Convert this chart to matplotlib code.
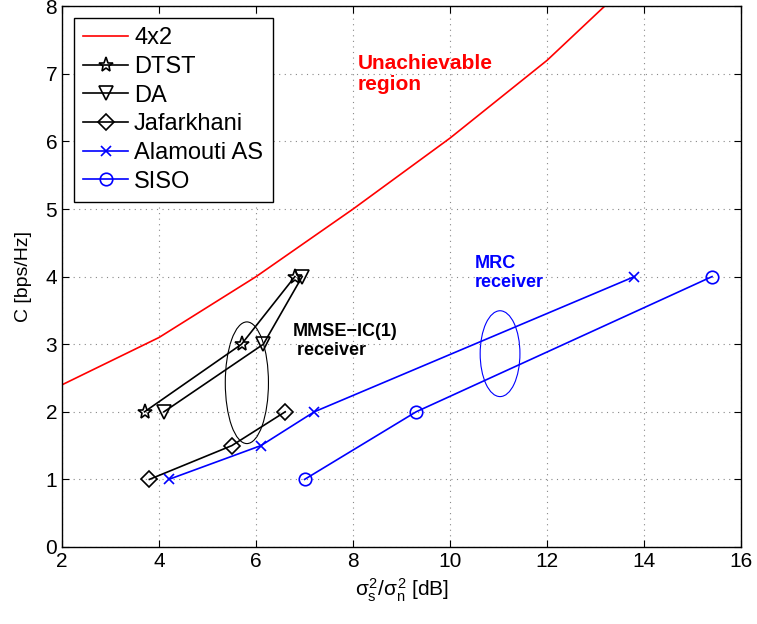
import matplotlib
matplotlib.use('Agg')
import matplotlib.pyplot as plt
from matplotlib.patches import Ellipse

plt.rcParams['font.family'] = ['Liberation Sans', 'DejaVu Sans']
plt.rcParams['mathtext.fontset'] = 'custom'
plt.rcParams['mathtext.rm'] = 'Liberation Sans'
plt.rcParams['mathtext.it'] = 'Liberation Sans'

# data
bound_x = [2, 4, 6, 8, 10, 12, 14]
bound_y = [2.4, 3.1, 4.0, 5.0, 6.05, 7.2, 8.55]

dtst_x = [3.7, 5.7, 6.8]
dtst_y = [2, 3, 4]
da_x = [4.1, 6.15, 6.95]
da_y = [2, 3, 4]
jaf_x = [3.8, 5.5, 6.6]
jaf_y = [1, 1.5, 2]
alam_x = [4.2, 6.1, 7.2, 13.8]
alam_y = [1, 1.5, 2, 4]
siso_x = [7.0, 9.3, 15.4]
siso_y = [1, 2, 4]

fig = plt.figure(figsize=(7.57, 6.24), dpi=100)
ax = fig.add_axes([0.082, 0.1234, 0.897, 0.8666])

ax.plot(bound_x, bound_y, color='red', lw=1.2, label='4x2')
ax.plot(dtst_x, dtst_y, color='black', lw=1.2, marker='*', ms=11, mfc='none', mew=1.2, label='DTST')
ax.plot(da_x, da_y, color='black', lw=1.2, marker='v', ms=10, mfc='none', mew=1.2, label='DA')
ax.plot(jaf_x, jaf_y, color='black', lw=1.2, marker='D', ms=8, mfc='none', mew=1.2, label='Jafarkhani')
ax.plot(alam_x, alam_y, color='blue', lw=1.2, marker='x', ms=7, mew=1.2, label='Alamouti AS')
ax.plot(siso_x, siso_y, color='blue', lw=1.2, marker='o', ms=9, mfc='none', mew=1.2, label='SISO')

ax.add_patch(Ellipse((5.81, 2.43), 0.89, 1.8, fill=False, ec='black', lw=0.8))
ax.add_patch(Ellipse((11.03, 2.86), 0.82, 1.27, fill=False, ec='blue', lw=0.8))

ax.text(8.1, 7.3, 'Unachievable\nregion', color='red', fontsize=15, fontweight='bold', va='top', linespacing=1.15)
ax.text(10.5, 4.32, 'MRC\nreceiver', color='blue', fontsize=13, fontweight='bold', va='top', linespacing=1.15)
ax.text(6.75, 3.32, 'MMSE\u2212IC(1)\n receiver', color='black', fontsize=13, fontweight='bold', va='top', linespacing=1.15)

ax.set_xlim(2, 16)
ax.set_ylim(0, 8)
ax.set_xticks(range(2, 17, 2))
ax.set_yticks(range(0, 9))
ax.grid(True, color='#888888', ls=(0, (1, 4)), lw=0.8)
ax.tick_params(direction='in', top=True, right=True, labelsize=15, length=5)
for s in ax.spines.values():
    s.set_linewidth(1.0)

ax.set_xlabel(r'$\sigma_s^2/\sigma_n^2$ [dB]', fontsize=15)
ax.set_ylabel('C [bps/Hz]', fontsize=14, labelpad=10)

leg = ax.legend(loc='upper left', fontsize=17, fancybox=False, edgecolor='black',
                framealpha=1, handlelength=1.9, borderpad=0.4, labelspacing=0.28,
                handletextpad=0.25, borderaxespad=0.5)
leg.get_frame().set_linewidth(1.0)

fig.savefig('out.png', dpi=100)
